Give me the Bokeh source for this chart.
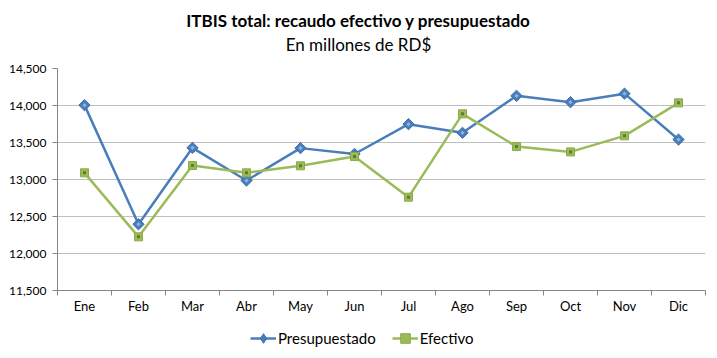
import numpy as np
from bokeh.plotting import figure
from bokeh.layouts import column
from bokeh.models import (Range1d, FixedTicker, NumeralTickFormatter, Label,
                          Legend, LegendItem, ColumnDataSource)
from bokeh.embed import file_html
from bokeh.resources import INLINE

months = ["Ene", "Feb", "Mar", "Abr", "May", "Jun", "Jul", "Ago", "Sep", "Oct", "Nov", "Dic"]
presupuestado = [14005, 12395, 13428, 12986, 13424, 13345, 13748, 13631, 14131, 14045, 14160, 13540]
efectivo = [13090, 12225, 13189, 13090, 13185, 13310, 12761, 13887, 13445, 13373, 13590, 14036]
y_ticks = [11500, 12000, 12500, 13000, 13500, 14000, 14500]
series_names = ["Presupuestado", "Efectivo"]
title_text = "ITBIS total: recaudo efectivo y presupuestado"
subtitle_text = "En millones de RD$"

FONT = "Lato"
BLUE = "#4A7EBB"
GREEN = "#9BBB59"

xpos = [i + 0.5 for i in range(len(months))]
src = ColumnDataSource(dict(x=xpos, p=presupuestado, e=efectivo))


def strip(height):
    f = figure(width=717, height=height, output_backend="svg", toolbar_location=None,
               x_axis_type=None, y_axis_type=None,
               x_range=Range1d(0, 1), y_range=Range1d(0, 1),
               min_border_left=0, min_border_right=0, min_border_top=0, min_border_bottom=0)
    f.outline_line_color = None
    f.border_fill_color = "white"
    f.background_fill_color = "white"
    return f


# title strip
pt = strip(60)
pt.add_layout(Label(x=301, y=40, x_units="screen", y_units="screen", text=title_text,
                    text_font=FONT, text_font_size="17px", text_font_style="bold",
                    text_color="#000000", text_align="center", text_baseline="middle"))
pt.add_layout(Label(x=301, y=16, x_units="screen", y_units="screen", text=subtitle_text,
                    text_font=FONT, text_font_size="17px", text_font_style="normal",
                    text_color="#000000", text_align="center", text_baseline="middle"))

# main chart
p = figure(width=717, height=259, output_backend="svg", toolbar_location=None,
           x_range=Range1d(0, len(months)), y_range=Range1d(y_ticks[0], y_ticks[-1]),
           min_border_left=57, min_border_right=12, min_border_top=8, min_border_bottom=29)
p.outline_line_color = None
p.background_fill_color = "white"
p.border_fill_color = "white"

p.xaxis.ticker = FixedTicker(ticks=xpos, minor_ticks=list(range(len(months) + 1)))
p.xaxis.major_label_overrides = {x: m for x, m in zip(xpos, months)}
p.xaxis.major_tick_line_color = None
p.xaxis.major_tick_out = 5
p.xaxis.major_tick_in = 0
p.xaxis.minor_tick_line_color = "#868686"
p.xaxis.minor_tick_out = 5
p.xaxis.minor_tick_in = 0
p.xaxis.axis_line_color = "#868686"
p.xaxis.major_label_text_font = FONT
p.xaxis.major_label_text_font_size = "13px"
p.xaxis.major_label_text_color = "#000000"
p.xaxis.major_label_standoff = 2

p.yaxis.ticker = FixedTicker(ticks=y_ticks)
p.yaxis.formatter = NumeralTickFormatter(format="0,0")
p.yaxis.major_tick_out = 5
p.yaxis.major_tick_in = 0
p.yaxis.minor_tick_line_color = None
p.yaxis.major_tick_line_color = "#868686"
p.yaxis.axis_line_color = "#868686"
p.yaxis.major_label_text_font = FONT
p.yaxis.major_label_text_font_size = "12px"
p.yaxis.major_label_text_color = "#000000"
p.yaxis.major_label_standoff = 6

p.xgrid.grid_line_color = None
p.ygrid.grid_line_color = "#BFBFBF"
p.ygrid.grid_line_width = 1

p.line("x", "p", source=src, line_color=BLUE, line_width=2.5)
p.scatter("x", "p", source=src, marker="square", angle=np.pi / 4, size=8,
          fill_color=BLUE, line_color="#3D6FAD", line_width=1)
p.scatter("x", "p", source=src, marker="square", angle=np.pi / 4, size=3,
          fill_color="#8FB3E0", line_color=None)
p.line("x", "e", source=src, line_color=GREEN, line_width=2.5)
p.scatter("x", "e", source=src, marker="square", size=8,
          fill_color=GREEN, line_color="#8AAA4C", line_width=1)
p.scatter("x", "e", source=src, marker="square", size=3,
          fill_color="#5E7D2F", line_color=None)

# legend strip (same data, outside this strip's visible range, only for legend glyphs)
pl = strip(39)
l1 = pl.line("x", "p", source=src, line_color=BLUE, line_width=2.5)
m1 = pl.scatter("x", "p", source=src, marker="diamond", size=8,
                fill_color=BLUE, line_color="#3D6FAD", line_width=1)
l2 = pl.line("x", "e", source=src, line_color=GREEN, line_width=2.5)
m2 = pl.scatter("x", "e", source=src, marker="square", size=8,
                fill_color=GREEN, line_color="#8AAA4C", line_width=1)
legend = Legend(items=[LegendItem(label=series_names[0], renderers=[l1, m1]),
                       LegendItem(label=series_names[1], renderers=[l2, m2])],
                orientation="horizontal", location=(193, 8),
                label_text_font=FONT, label_text_font_size="15px", label_text_color="#000000",
                glyph_width=26, glyph_height=24, label_standoff=2, spacing=16,
                padding=0, margin=0, border_line_color=None, background_fill_alpha=0)
pl.add_layout(legend, "center")

layout = column(pt, p, pl, spacing=0)
open("out.html", "w").write(file_html(layout, INLINE))
